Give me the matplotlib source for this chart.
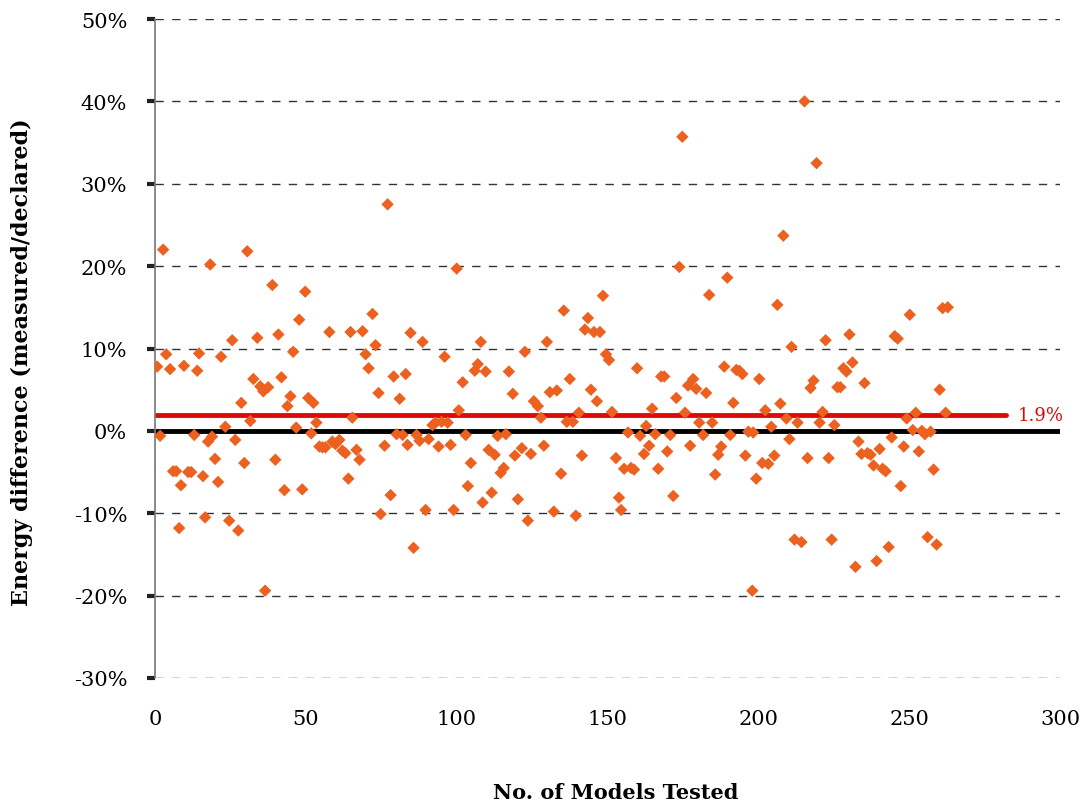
import matplotlib
matplotlib.use("Agg")
import matplotlib.pyplot as plt
from matplotlib.ticker import FuncFormatter

models = [0.7, 1.7, 2.7, 3.7, 5.0, 6.0, 7.0, 8.0, 8.6, 9.6, 11.0, 12.0, 13.0, 14.0, 14.6, 15.9, 16.6, 17.6, 18.3, 18.9,
          19.9, 20.9, 21.9, 23.3, 24.6, 25.6, 26.6, 27.6, 28.6, 29.6, 30.6, 31.6, 32.6, 33.9, 34.9, 35.9, 36.5, 37.5, 38.9, 39.9,
          40.9, 41.9, 42.9, 43.9, 44.9, 45.8, 46.8, 47.8, 48.8, 49.8, 50.8, 51.8, 52.5, 53.5, 54.5, 55.5, 56.5, 57.8, 58.8, 59.8,
          61.1, 62.1, 63.1, 64.1, 64.8, 65.4, 66.8, 67.8, 68.8, 69.8, 70.8, 72.1, 73.1, 74.1, 74.8, 76.1, 77.1, 78.1, 79.1, 80.1,
          81.1, 82.1, 83.1, 83.7, 84.7, 85.7, 86.7, 87.7, 88.7, 89.7, 90.7, 92.0, 93.0, 94.0, 95.0, 96.0, 97.0, 98.0, 99.0, 100.0,
          100.7, 102.0, 103.0, 103.7, 104.7, 106.0, 107.0, 108.0, 108.6, 109.6, 110.6, 111.6, 112.6, 113.6, 114.6, 115.6, 116.3, 117.3, 118.6, 119.3,
          120.3, 121.6, 122.6, 123.6, 124.6, 125.6, 126.9, 127.9, 128.9, 129.9, 130.9, 132.2, 133.2, 134.6, 135.5, 136.5, 137.5, 138.5, 139.5, 140.5,
          141.5, 142.5, 143.5, 144.5, 145.5, 146.5, 147.5, 148.5, 149.5, 150.5, 151.5, 152.8, 153.8, 154.5, 155.5, 156.8, 157.8, 158.8, 159.8, 160.8,
          162.1, 162.8, 163.8, 164.8, 165.8, 166.8, 167.8, 168.8, 169.8, 170.8, 171.8, 172.8, 173.8, 174.8, 175.7, 176.7, 177.4, 178.4, 179.4, 180.4,
          181.7, 182.7, 183.7, 184.7, 185.7, 186.7, 187.7, 188.7, 189.7, 190.7, 191.7, 192.7, 193.7, 194.7, 195.7, 196.7, 198.0, 198.3, 199.3, 200.3,
          201.3, 202.3, 203.3, 204.3, 205.3, 206.3, 207.3, 208.3, 209.3, 210.3, 211.0, 212.0, 213.0, 214.3, 215.3, 216.3, 217.3, 218.3, 219.3, 220.3,
          221.3, 222.3, 223.3, 224.3, 225.2, 226.2, 227.2, 228.2, 229.2, 230.2, 231.2, 232.2, 233.2, 234.2, 235.2, 236.2, 237.2, 238.2, 239.2, 240.2,
          241.2, 242.2, 243.2, 244.2, 245.2, 246.2, 247.2, 248.2, 249.2, 250.2, 251.2, 252.2, 253.2, 254.2, 255.2, 256.1, 257.1, 258.1, 259.1, 260.1,
          261.1, 262.1, 262.8]

energy_diff = [7.8, -0.6, 22.0, 9.3, 7.5, -4.9, -4.9, -11.8, -6.6, 7.9, -5.0, -5.0, -0.5, 7.3, 9.4, -5.5, -10.5, -1.3, 20.2, -0.7,
               -3.4, -6.2, 9.0, 0.5, -10.9, 11.0, -1.1, -12.1, 3.4, -3.9, 21.8, 1.2, 6.3, 11.3, 5.4, 4.8, -19.4, 5.3, 17.7, -3.5,
               11.7, 6.5, -7.2, 3.0, 4.2, 9.6, 0.4, 13.5, -7.1, 16.9, 4.0, -0.3, 3.4, 1.0, -1.9, -2.0, -2.0, 12.0, -1.3, -1.6,
               -1.1, -2.4, -2.7, -5.8, 12.0, 1.6, -2.3, -3.5, 12.1, 9.3, 7.6, 14.2, 10.4, 4.6, -10.1, -1.8, 27.5, -7.8, 6.6, -0.4,
               3.9, -0.5, 6.9, -1.7, 11.9, -14.2, -0.5, -1.2, 10.8, -9.6, -1.0, 0.7, 1.0, -1.9, 1.1, 9.0, 1.0, -1.7, -9.6, 19.7,
               2.5, 5.9, -0.5, -6.7, -3.9, 7.3, 8.1, 10.8, -8.7, 7.2, -2.3, -7.5, -2.9, -0.6, -5.1, -4.5, -0.4, 7.2, 4.5, -3.0,
               -8.3, -2.1, 9.6, -10.9, -2.8, 3.6, 3.0, 1.6, -1.8, 10.8, 4.7, -9.8, 4.9, -5.2, 14.6, 1.1, 6.3, 1.1, -10.3, 2.2,
               -3.0, 12.3, 13.7, 5.0, 12.0, 3.6, 12.0, 16.4, 9.3, 8.6, 2.3, -3.3, -8.1, -9.6, -4.6, -0.2, -4.5, -4.7, 7.6, -0.6,
               -2.8, 0.6, -1.8, 2.7, -0.4, -4.6, 6.6, 6.6, -2.5, -0.5, -7.9, 4.0, 19.9, 35.7, 2.2, 5.5, -1.8, 6.3, 5.1, 1.0,
               -0.5, 4.6, 16.5, 1.0, -5.3, -2.9, -1.9, 7.8, 18.6, -0.5, 3.4, 7.4, 7.3, 6.9, -3.0, -0.1, -19.4, -0.2, -5.8, 6.3,
               -3.9, 2.5, -4.0, 0.5, -3.0, 15.3, 3.3, 23.7, 1.5, -1.0, 10.2, -13.2, 1.0, -13.5, 40.0, -3.3, 5.2, 6.1, 32.5, 1.0,
               2.3, 11.0, -3.3, -13.2, 0.7, 5.3, 5.3, 7.6, 7.2, 11.7, 8.3, -16.5, -1.3, -2.8, 5.8, -2.7, -2.9, -4.2, -15.8, -2.2,
               -4.6, -4.9, -14.1, -0.8, 11.5, 11.2, -6.7, -1.9, 1.5, 14.1, 0.1, 2.2, -2.5, 0.0, -0.4, -12.9, -0.1, -4.7, -13.8, 5.0,
               14.9, 2.2, 15.0]

average_diff = 1.9
average_end = 282
x_ticks = [0, 50, 100, 150, 200, 250, 300]
y_ticks = [-30, -20, -10, 0, 10, 20, 30, 40, 50]

plt.rcParams['font.family'] = ['DejaVu Serif']

fig = plt.figure(figsize=(10.81, 8.03), dpi=100)
ax = fig.add_axes([155 / 1081, 1 - 679 / 803, (1060 - 155) / 1081, (679 - 20) / 803])

ax.set_xlim(0, 300)
ax.set_ylim(-30, 50)

for yv in y_ticks:
    if yv != 0:
        ax.axhline(yv, color='#333333', linestyle=(0, (6, 6)), linewidth=1.0, zorder=1)

ax.plot([0, 300], [0, 0], color='black', linewidth=3.5, zorder=2, solid_capstyle='butt')
ax.plot([0, average_end], [average_diff, average_diff], color='#DD0A0A', linewidth=3.5, zorder=2,
        solid_capstyle='round')
ax.text(average_end + 4, average_diff, f"{average_diff}%", color='#DD0A0A', fontsize=13,
        va='center', ha='left')

ax.scatter(models, energy_diff, marker='D', s=40, color='#EC6120', edgecolors='none', zorder=3)

for side in ['top', 'right', 'bottom']:
    ax.spines[side].set_visible(False)
ax.spines['left'].set_color('#777777')
ax.spines['left'].set_linewidth(1.2)

ax.set_xticks(x_ticks)
ax.set_yticks(y_ticks)
ax.yaxis.set_major_formatter(FuncFormatter(lambda v, p: f"{int(v)}%"))
ax.tick_params(axis='y', direction='out', length=6, width=3, color='#222222', labelsize=15, pad=14)
ax.tick_params(axis='x', length=0, labelsize=15, pad=22)

ax.set_xlabel("No. of Models Tested", fontsize=15, fontweight='bold')
ax.xaxis.set_label_coords(0.509, -0.173)
ax.xaxis.label.set_va('center')
ax.set_ylabel("Energy difference (measured/declared)", fontsize=16, fontweight='bold')
ax.yaxis.set_label_coords(-0.147, 0.481)
ax.yaxis.label.set_va('center')

fig.savefig("out.png", dpi=100)
